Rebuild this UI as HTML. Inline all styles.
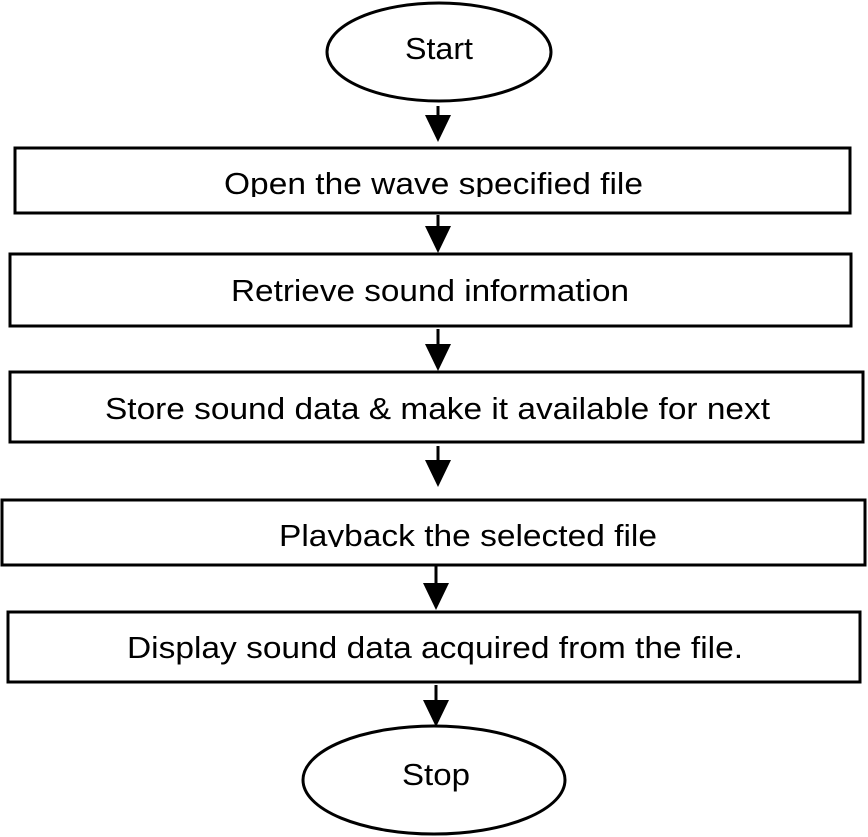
<!DOCTYPE html>
<html><head><style>html,body{margin:0;padding:0;background:#fff}svg{display:block}</style></head>
<body>
<svg width="868" height="837" viewBox="0 0 868 837" xmlns="http://www.w3.org/2000/svg">
<defs>
<clipPath id="c1"><rect x="0" y="150" width="868" height="47"/></clipPath>
<clipPath id="c2"><rect x="0" y="500" width="868" height="47"/></clipPath>
</defs>
<g fill="none" stroke="#000" stroke-width="3">
<ellipse cx="439" cy="52" rx="112" ry="49"/>
<rect x="15" y="148" width="835" height="65"/>
<rect x="10" y="254" width="841" height="72"/>
<rect x="10" y="372" width="853" height="70"/>
<rect x="2" y="500" width="863" height="65"/>
<rect x="8" y="612" width="852" height="70"/>
<ellipse cx="434" cy="780" rx="131" ry="54"/>
<line x1="438" y1="106" x2="438" y2="118"/>
<line x1="438" y1="215" x2="438" y2="228"/>
<line x1="438" y1="329" x2="438" y2="346"/>
<line x1="438" y1="446" x2="438" y2="462"/>
<line x1="436" y1="566" x2="436" y2="584"/>
<line x1="436" y1="685" x2="436" y2="702"/>
</g>
<g fill="#000">
<polygon points="425,115 451,115 438,142"/>
<polygon points="425,226 451,226 438,253"/>
<polygon points="425,344 451,344 438,371"/>
<polygon points="425,460 451,460 438,487"/>
<polygon points="423,583 449,583 436,610"/>
<polygon points="423,700 449,700 436,727"/>
</g>
<g font-family="Liberation Sans, sans-serif" font-size="31" fill="#000">
<text x="405" y="59" textLength="68" lengthAdjust="spacingAndGlyphs">Start</text>
<text x="224" y="194" textLength="419" lengthAdjust="spacingAndGlyphs" clip-path="url(#c1)">Open the wave specified file</text>
<text x="231" y="301" textLength="398" lengthAdjust="spacingAndGlyphs">Retrieve sound information</text>
<text x="105" y="419" textLength="665" lengthAdjust="spacingAndGlyphs">Store sound data &amp; make it available for next</text>
<text x="279" y="546" textLength="378" lengthAdjust="spacingAndGlyphs" clip-path="url(#c2)">Playback the selected file</text>
<text x="127" y="658" textLength="616" lengthAdjust="spacingAndGlyphs">Display sound data acquired from the file.</text>
<text x="402" y="785" textLength="68" lengthAdjust="spacingAndGlyphs">Stop</text>
</g>
</svg>
</body></html>
